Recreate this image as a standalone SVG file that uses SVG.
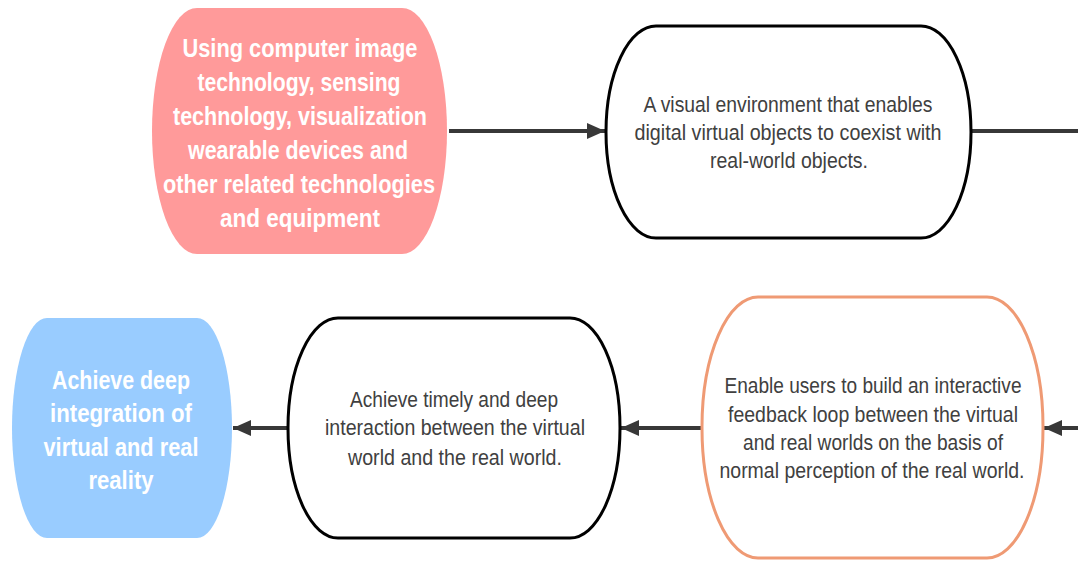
<svg xmlns="http://www.w3.org/2000/svg" width="1078" height="561" viewBox="0 0 1078 561">
<defs>
<style>
.plain{fill:#ffffff;stroke:#000000;stroke-width:3}
.red{fill:#ff9a9a;stroke:none}
.blue{fill:#99ccff;stroke:none}
.orange{fill:#ffffff;stroke:#ef9a74;stroke-width:3}
.t{font-family:"Liberation Sans",Arial,sans-serif;font-size:22px;fill:#404040;text-anchor:middle}
.b{font-family:"Liberation Sans",Arial,sans-serif;font-size:26px;font-weight:bold;fill:#ffffff;text-anchor:middle}
.edge{stroke:#383838;stroke-width:4;fill:none}
</style>
<marker id="arr" viewBox="0 0 18 16" refX="18" refY="8" markerWidth="18" markerHeight="16" markerUnits="userSpaceOnUse" orient="auto">
<path d="M0,0 L18,8 L0,16 Z" fill="#383838"/>
</marker>
</defs>
<rect width="1078" height="561" fill="#ffffff"/>
<g id="connectors">
<line class="edge" x1="449" y1="131" x2="605" y2="131" marker-end="url(#arr)"/>
<line class="edge" x1="972" y1="131" x2="1078" y2="131"/>
<line class="edge" x1="1078" y1="428" x2="1044" y2="428" marker-end="url(#arr)"/>
<line class="edge" x1="702" y1="428" x2="621" y2="428" marker-end="url(#arr)"/>
<line class="edge" x1="288" y1="428" x2="233" y2="428" marker-end="url(#arr)"/>
</g>
<g id="node-tech">
<rect class="red" x="152" y="8" width="295" height="246" rx="45" ry="123"/>
<text class="b" x="300" y="57" textLength="235" lengthAdjust="spacingAndGlyphs">Using computer image</text>
<text class="b" x="299" y="91" textLength="203" lengthAdjust="spacingAndGlyphs">technology, sensing</text>
<text class="b" x="300" y="125" textLength="254" lengthAdjust="spacingAndGlyphs">technology, visualization</text>
<text class="b" x="298" y="159" textLength="220" lengthAdjust="spacingAndGlyphs">wearable devices and</text>
<text class="b" x="299" y="193" textLength="272" lengthAdjust="spacingAndGlyphs">other related technologies</text>
<text class="b" x="300" y="227" textLength="160" lengthAdjust="spacingAndGlyphs">and equipment</text>
</g>
<g id="node-visual">
<rect class="plain" x="606" y="26" width="365" height="212" rx="50" ry="106"/>
<text class="t" x="788" y="112" textLength="289" lengthAdjust="spacingAndGlyphs">A visual environment that enables</text>
<text class="t" x="788" y="140" textLength="307" lengthAdjust="spacingAndGlyphs">digital virtual objects to coexist with</text>
<text class="t" x="789" y="168" textLength="158" lengthAdjust="spacingAndGlyphs">real-world objects.</text>
</g>
<g id="node-loop">
<rect class="orange" x="702" y="297" width="341" height="261" rx="56" ry="130"/>
<text class="t" x="873" y="393" textLength="297" lengthAdjust="spacingAndGlyphs">Enable users to build an interactive</text>
<text class="t" x="873" y="422" textLength="290" lengthAdjust="spacingAndGlyphs">feedback loop between the virtual</text>
<text class="t" x="873" y="450" textLength="260" lengthAdjust="spacingAndGlyphs">and real worlds on the basis of</text>
<text class="t" x="872" y="478" textLength="305" lengthAdjust="spacingAndGlyphs">normal perception of the real world.</text>
</g>
<g id="node-interaction">
<rect class="plain" x="288" y="318" width="332" height="220" rx="50" ry="110"/>
<text class="t" x="454" y="407" textLength="208" lengthAdjust="spacingAndGlyphs">Achieve timely and deep</text>
<text class="t" x="455" y="435" textLength="260" lengthAdjust="spacingAndGlyphs">interaction between the virtual</text>
<text class="t" x="455" y="465" textLength="214" lengthAdjust="spacingAndGlyphs">world and the real world.</text>
</g>
<g id="node-integration">
<rect class="blue" x="12" y="318" width="220" height="220" rx="35" ry="110"/>
<text class="b" x="121" y="389" textLength="138" lengthAdjust="spacingAndGlyphs">Achieve deep</text>
<text class="b" x="121" y="422" textLength="142" lengthAdjust="spacingAndGlyphs">integration of</text>
<text class="b" x="121" y="456" textLength="155" lengthAdjust="spacingAndGlyphs">virtual and real</text>
<text class="b" x="121" y="489" textLength="65" lengthAdjust="spacingAndGlyphs">reality</text>
</g>
</svg>
